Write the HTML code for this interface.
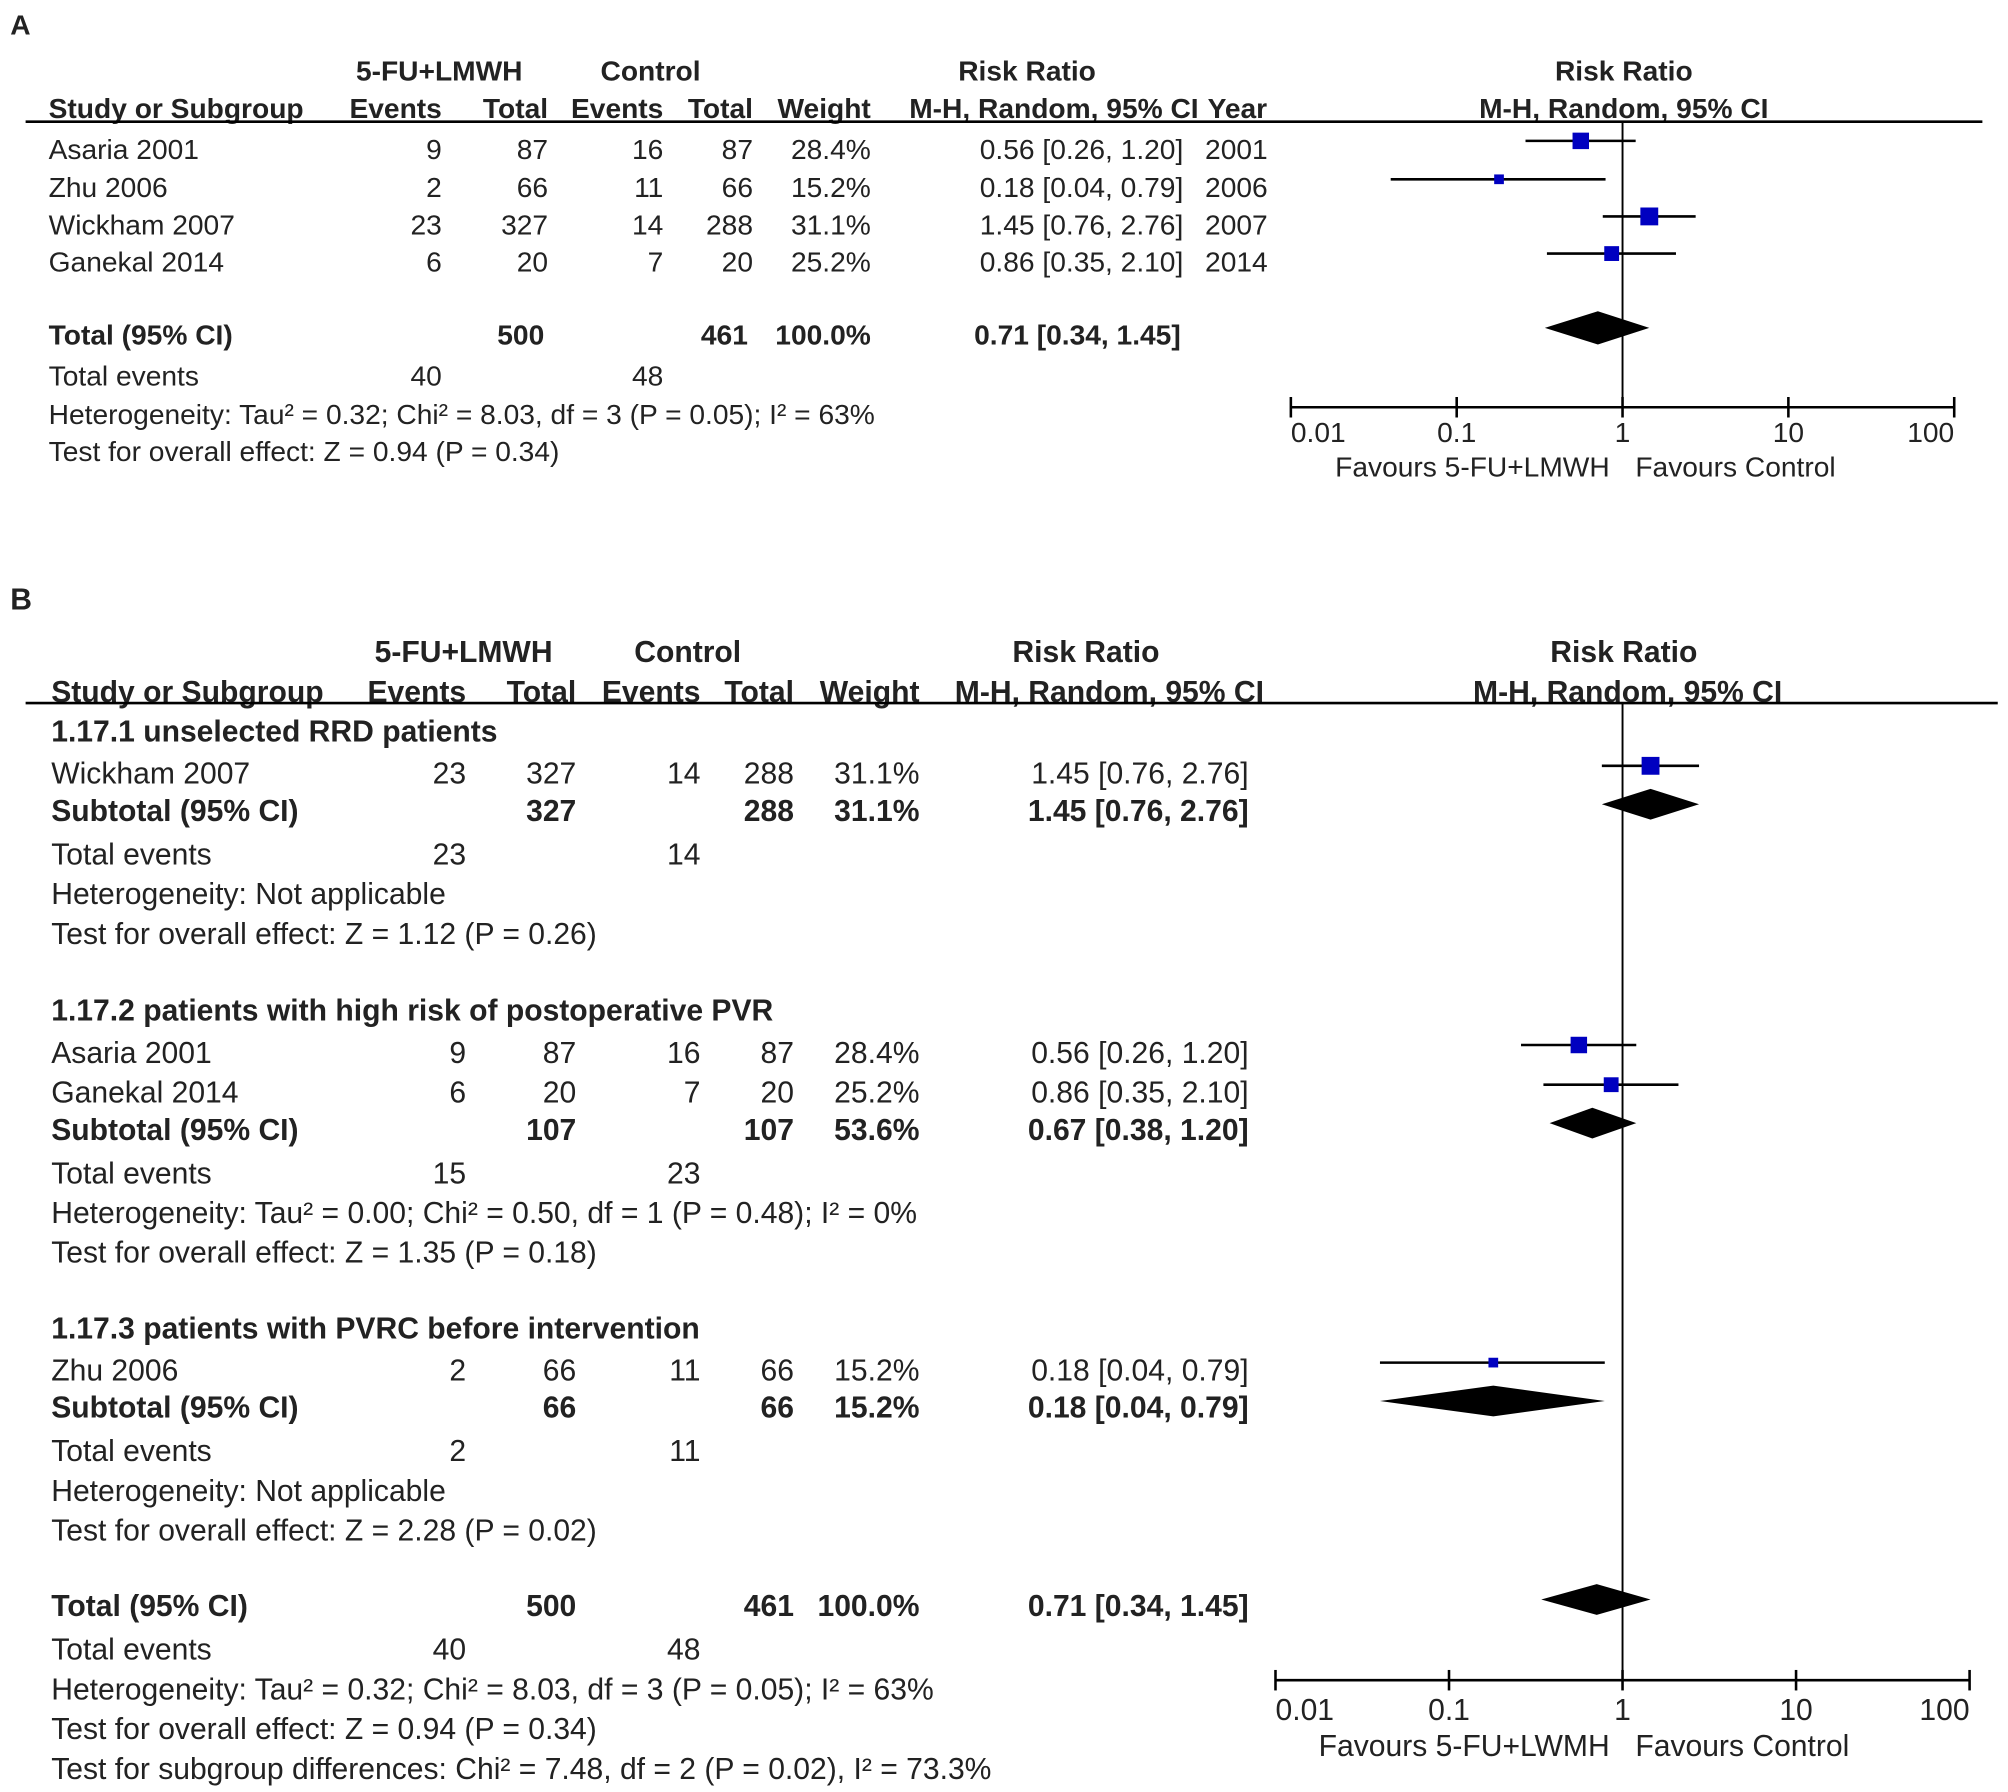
<!DOCTYPE html>
<html><head><meta charset="utf-8"><title>Forest plots</title>
<style>
html,body{margin:0;padding:0;background:#fff;}
svg{display:block;}
text{font-family:"Liberation Sans",Arial,sans-serif;font-size:22px;fill:#222;}
#gB text{font-size:23.5px;}
.b{font-weight:bold;}
</style></head>
<body>
<svg id="chart" width="2008" height="1792" viewBox="0 0 1568 1399.3" preserveAspectRatio="none" xmlns="http://www.w3.org/2000/svg">
<g id="gA"></g>
<g id="gB"></g>
</svg>
<script>
// ---- Panel A data ----
const studiesA = ["Asaria 2001","Zhu 2006","Wickham 2007","Ganekal 2014"];
const ev1A = [9,2,23,6];
const tot1A = [87,66,327,20];
const ev2A = [16,11,14,7];
const tot2A = [87,66,288,20];
const weightA = [28.4,15.2,31.1,25.2];
const rrA = [0.56,0.18,1.45,0.86];
const loA = [0.26,0.04,0.76,0.35];
const hiA = [1.20,0.79,2.76,2.10];
const yearA = [2001,2006,2007,2014];
const totalA = {rr:0.71, lo:0.34, hi:1.45};
const ticks = [0.01,0.1,1,10,100];
const tickLabels = ["0.01","0.1","1","10","100"];

// ---- Panel B data ----
const subgroupNamesB = ["1.17.1 unselected RRD patients","1.17.2 patients with high risk of postoperative PVR","1.17.3 patients with PVRC before intervention"];
const subStudiesB = [["Wickham 2007"],["Asaria 2001","Ganekal 2014"],["Zhu 2006"]];
const subEv1B = [[23],[9,6],[2]];
const subTot1B = [[327],[87,20],[66]];
const subEv2B = [[14],[16,7],[11]];
const subTot2B = [[288],[87,20],[66]];
const subWeightB = [[31.1],[28.4,25.2],[15.2]];
const subRrB = [[1.45],[0.56,0.86],[0.18]];
const subLoB = [[0.76],[0.26,0.35],[0.04]];
const subHiB = [[2.76],[1.20,2.10],[0.79]];
const subtotRrB = [1.45,0.67,0.18];
const subtotLoB = [0.76,0.38,0.04];
const subtotHiB = [2.76,1.20,0.79];
const subtotN1B = [327,107,66];
const subtotN2B = [288,107,66];
const subtotWB = ["31.1%","53.6%","15.2%"];
const subTE1B = [23,15,2];
const subTE2B = [14,23,11];
const subHetB = ["Heterogeneity: Not applicable","Heterogeneity: Tau² = 0.00; Chi² = 0.50, df = 1 (P = 0.48); I² = 0%","Heterogeneity: Not applicable"];
const subTestB = ["Test for overall effect: Z = 1.12 (P = 0.26)","Test for overall effect: Z = 1.35 (P = 0.18)","Test for overall effect: Z = 2.28 (P = 0.02)"];

const NS="http://www.w3.org/2000/svg";
function mk(parent,tag,attrs,txt){
  const e=document.createElementNS(NS,tag);
  for(const k in attrs) e.setAttribute(k,attrs[k]);
  if(txt!==undefined) e.textContent=txt;
  parent.appendChild(e); return e;
}
function T(p,x,y,s,anchor,bold,name){
  const e=mk(p,"text",{x:x,y:y+8,"text-anchor":anchor||"start"},s);
  if(bold) e.setAttribute("class","b");
  
  
  return e;
}
function L(p,x1,y1,x2,y2,w,name){
  const e=mk(p,"line",{x1:x1,y1:y1,x2:x2,y2:y2,stroke:"#000","stroke-width":w||1.5});
  
  
  return e;
}
function fmt(v){return v.toFixed(2);}
function ci(r,l,h){return fmt(r)+" ["+fmt(l)+", "+fmt(h)+"]";}
function sq(w){return w*0.4+1.5;}
function makeScale(x0,x1){return v=>x0+(Math.log10(v)+2)/4*(x1-x0);}

function study(p,sx,y,r,l,h,w){
  L(p,sx(l),y,sx(h),y,2,'ci-whisker');
  const s=sq(w);
  const e=mk(p,"rect",{x:sx(r)-s/2,y:y-s/2,width:s,height:s,fill:"#0000c0"});
  
  
}
function diamond(p,sx,y,r,l,h,hh){
  const e=mk(p,"polygon",{points:`${sx(l)},${y} ${sx(r)},${y-hh} ${sx(h)},${y} ${sx(r)},${y+hh}`,fill:"#000"});
  
  
}
function axis(p,sx,y,x0,x1,labY,favY,fav1){
  L(p,x0,y,x1,y,2,'x-axis');
  ticks.forEach((t,i)=>{
    L(p,sx(t),y-8,sx(t),y+8,2,'x-tick');
    let anchor="middle", x=sx(t);
    if(i===0){anchor="start";}
    if(i===ticks.length-1){anchor="end";}
    T(p,x,labY,tickLabels[i],anchor,false,'x-tick-label');
  });
  T(p,sx(1)-10,favY,fav1,"end",false,'favours-left');
  T(p,sx(1)+10,favY,"Favours Control","start",false,'favours-right');
}

// ---------- Panel A ----------
(function(){
  const g=document.getElementById("gA");
  const sx=makeScale(1008,1526);
  const c={e1:345,t1:428,e2:518,t2:588,w:680,ci:924,yr:941};
  T(g,8,19,"A","start",true,'panel-label-a');
  T(g,343,55,"5-FU+LMWH","middle",true,'group-header-treatment');
  T(g,508,55,"Control","middle",true,'group-header-control');
  T(g,802,55,"Risk Ratio","middle",true,'rr-header');
  T(g,1268,55,"Risk Ratio","middle",true,'plot-header');
  const hy=84;
  T(g,38,hy,"Study or Subgroup","start",true,'col-study');
  T(g,c.e1,hy,"Events","end",true,'col-events');
  T(g,c.t1,hy,"Total","end",true,'col-total');
  T(g,c.e2,hy,"Events","end",true,'col-events');
  T(g,c.t2,hy,"Total","end",true,'col-total');
  T(g,c.w,hy,"Weight","end",true,'col-weight');
  T(g,936,hy,"M-H, Random, 95% CI","end",true,'col-rr');
  T(g,943,hy,"Year","start",true,'col-year');
  T(g,1268,hy,"M-H, Random, 95% CI","middle",true,'plot-subheader');
  L(g,20,95,1548,95,2,'header-rule');
  L(g,sx(1),95,sx(1),318,1.5,'null-line');
  const ys=[116,146,175,204];
  studiesA.forEach((s,i)=>{
    const y=ys[i];
    T(g,38,y,s,"start",false,'study-name');
    T(g,c.e1,y,String(ev1A[i]),"end");
    T(g,c.t1,y,String(tot1A[i]),"end");
    T(g,c.e2,y,String(ev2A[i]),"end");
    T(g,c.t2,y,String(tot2A[i]),"end");
    T(g,c.w,y,weightA[i].toFixed(1)+"%","end");
    T(g,c.ci,y,ci(rrA[i],loA[i],hiA[i]),"end");
    T(g,c.yr,y,String(yearA[i]),"start");
    study(g,sx,y-6,rrA[i],loA[i],hiA[i],weightA[i]);
  });
  T(g,38,261,"Total (95% CI)","start",true,'total-label');
  T(g,425,261,"500","end",true);
  T(g,584,261,"461","end",true);
  T(g,680,261,"100.0%","end",true);
  T(g,922,261,ci(totalA.rr,totalA.lo,totalA.hi),"end",true);
  diamond(g,sx,256,totalA.rr,totalA.lo,totalA.hi,13);
  T(g,38,293,"Total events","start");
  T(g,c.e1,293,"40","end");
  T(g,c.e2,293,"48","end");
  T(g,38,323,"Heterogeneity: Tau² = 0.32; Chi² = 8.03, df = 3 (P = 0.05); I² = 63%","start",false,'heterogeneity');
  T(g,38,352,"Test for overall effect: Z = 0.94 (P = 0.34)","start",false,'overall-effect');
  axis(g,sx,318,1008,1526,337,364,"Favours 5-FU+LMWH");
})();

// ---------- Panel B ----------
(function(){
  const g=document.getElementById("gB");
  const sx=makeScale(996,1538);
  const c={e1:364,t1:450,e2:547,t2:620,w:718,ci:975};
  T(g,8,468,"B","start",true,'panel-label-b');
  T(g,362,509,"5-FU+LMWH","middle",true,'group-header-treatment');
  T(g,537,509,"Control","middle",true,'group-header-control');
  T(g,848,509,"Risk Ratio","middle",true,'rr-header');
  T(g,1268,509,"Risk Ratio","middle",true,'plot-header');
  const hy=540;
  T(g,40,hy,"Study or Subgroup","start",true,'col-study');
  T(g,c.e1,hy,"Events","end",true,'col-events');
  T(g,c.t1,hy,"Total","end",true,'col-total');
  T(g,c.e2,hy,"Events","end",true,'col-events');
  T(g,c.t2,hy,"Total","end",true,'col-total');
  T(g,c.w,hy,"Weight","end",true,'col-weight');
  T(g,987,hy,"M-H, Random, 95% CI","end",true,'col-rr');
  T(g,1271,hy,"M-H, Random, 95% CI","middle",true,'plot-subheader');
  L(g,20,549,1560,549,2,'header-rule');
  L(g,sx(1),549,sx(1),1312,1.5,'null-line');
  const headY=[571,789,1037];
  headY.forEach((hy0,k)=>{
    let y=hy0;
    T(g,40,y,subgroupNamesB[k],"start",true,'subgroup-heading');
    y+=33;
    subStudiesB[k].forEach((s,i)=>{
      T(g,40,y,s,"start",false,'study-name');
      T(g,c.e1,y,String(subEv1B[k][i]),"end");
      T(g,c.t1,y,String(subTot1B[k][i]),"end");
      T(g,c.e2,y,String(subEv2B[k][i]),"end");
      T(g,c.t2,y,String(subTot2B[k][i]),"end");
      T(g,c.w,y,subWeightB[k][i].toFixed(1)+"%","end");
      T(g,c.ci,y,ci(subRrB[k][i],subLoB[k][i],subHiB[k][i]),"end");
      study(g,sx,y-6,subRrB[k][i],subLoB[k][i],subHiB[k][i],subWeightB[k][i]);
      y+=31;
    });
    y-=2;
    T(g,40,y,"Subtotal (95% CI)","start",true,'subtotal-label');
    T(g,c.t1,y,String(subtotN1B[k]),"end",true);
    T(g,c.t2,y,String(subtotN2B[k]),"end",true);
    T(g,c.w,y,subtotWB[k],"end",true);
    T(g,c.ci,y,ci(subtotRrB[k],subtotLoB[k],subtotHiB[k]),"end",true);
    diamond(g,sx,y-5,subtotRrB[k],subtotLoB[k],subtotHiB[k],12);
    y+=34;
    T(g,40,y,"Total events","start");
    T(g,c.e1,y,String(subTE1B[k]),"end");
    T(g,c.e2,y,String(subTE2B[k]),"end");
    y+=31;
    T(g,40,y,subHetB[k],"start",false,'heterogeneity');
    y+=31;
    T(g,40,y,subTestB[k],"start",false,'overall-effect');
  });
  T(g,40,1254,"Total (95% CI)","start",true,'total-label');
  T(g,c.t1,1254,"500","end",true);
  T(g,c.t2,1254,"461","end",true);
  T(g,c.w,1254,"100.0%","end",true);
  T(g,c.ci,1254,ci(totalA.rr,totalA.lo,totalA.hi),"end",true);
  diamond(g,sx,1249,totalA.rr,totalA.lo,totalA.hi,12);
  T(g,40,1288,"Total events","start");
  T(g,c.e1,1288,"40","end");
  T(g,c.e2,1288,"48","end");
  T(g,40,1319,"Heterogeneity: Tau² = 0.32; Chi² = 8.03, df = 3 (P = 0.05); I² = 63%","start",false,'heterogeneity');
  T(g,40,1350,"Test for overall effect: Z = 0.94 (P = 0.34)","start",false,'overall-effect');
  T(g,40,1381,"Test for subgroup differences: Chi² = 7.48, df = 2 (P = 0.02), I² = 73.3%","start",false,'subgroup-differences');
  axis(g,sx,1312,996,1538,1335,1363,"Favours 5-FU+LWMH");
})();
</script>
</body></html>
